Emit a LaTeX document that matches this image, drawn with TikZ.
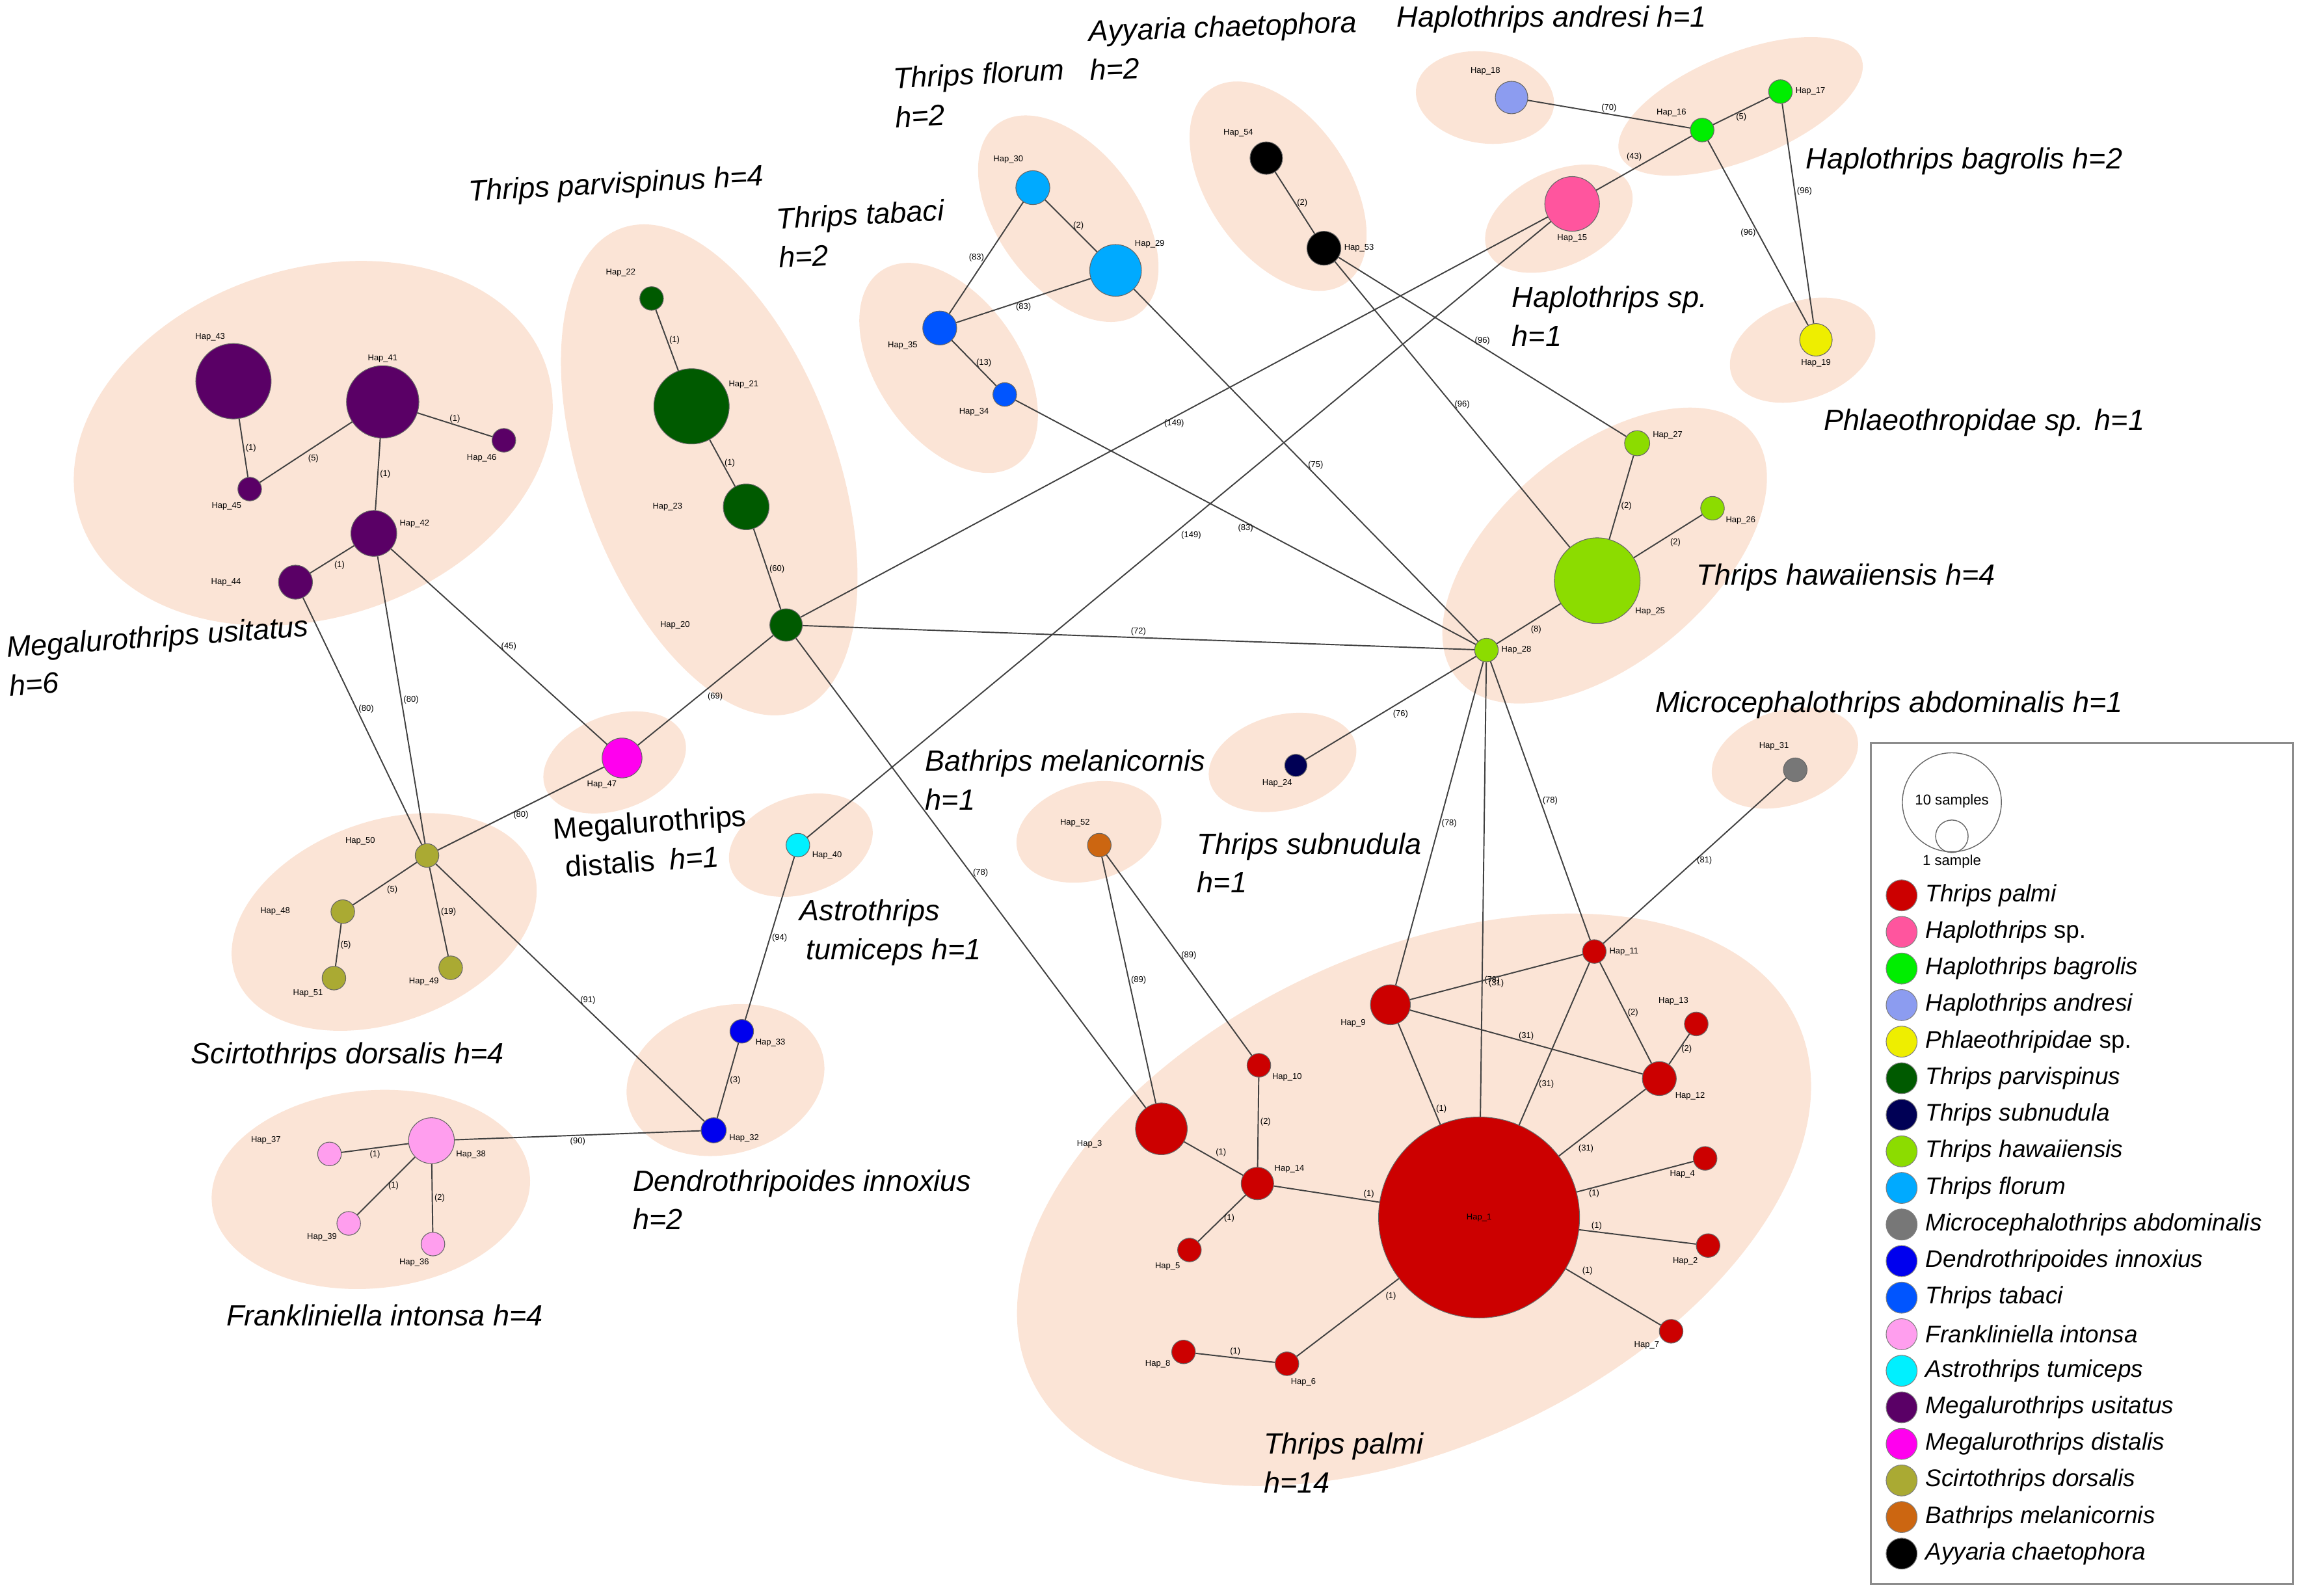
\documentclass[tikz,border=0pt]{standalone}
\usepackage{fontspec}
\setmainfont{Liberation Sans}
\usetikzlibrary{positioning}
\definecolor{blob}{HTML}{FBE4D6}
\definecolor{cpalmi}{HTML}{CC0000}
\definecolor{chapsp}{HTML}{FF559E}
\definecolor{cbagro}{HTML}{00EE00}
\definecolor{candre}{HTML}{8C9CF0}
\definecolor{cphlae}{HTML}{EEEE00}
\definecolor{cparvi}{HTML}{005A00}
\definecolor{csubnu}{HTML}{000055}
\definecolor{chawai}{HTML}{8CDC00}
\definecolor{cflor}{HTML}{00AAFF}
\definecolor{cmicro}{HTML}{777777}
\definecolor{cdendr}{HTML}{0000EE}
\definecolor{ctabac}{HTML}{0055FF}
\definecolor{cfrank}{HTML}{FF9EEE}
\definecolor{castro}{HTML}{00F0FF}
\definecolor{cusita}{HTML}{5A0066}
\definecolor{cdista}{HTML}{FF00EE}
\definecolor{cscirt}{HTML}{AAAA33}
\definecolor{cbathr}{HTML}{CC6611}
\definecolor{cayyar}{HTML}{000000}
\tikzset{hap/.style={circle, draw=black!60, line width=0.3pt, inner sep=0pt, minimum size=#1*0.2272mm},
  hl/.style={font=\fontsize{3.7}{4}\selectfont, inner sep=0.5pt},
  mut/.style={font=\fontsize{3.7}{4}\selectfont, inner sep=0.7pt},
  link/.style={draw=black!75, line width=0.55pt},
  group/.style={fill=blob},
  sp/.style={font=\fontsize{12.8}{17}\selectfont\itshape, inner sep=0pt, anchor=west, align=left},
  key/.style={circle, draw=black!50, line width=0.3pt, inner sep=0pt, minimum size=21*0.2272mm},
  legtxt/.style={font=\fontsize{10.5}{12}\selectfont\itshape, inner sep=0pt},
  samp/.style={font=\fontsize{6.3}{7}\selectfont, inner sep=0.5pt},
  keybox/.style={draw=black!45, line width=0.8pt}}

\begin{document}
\begin{tikzpicture}[x=0.2272mm, y=-0.2272mm, label distance=0.6pt]
     \useasboundingbox (0,0) rectangle (1560,1079.76);
     % species groups
     \fill[group, rotate around={18:(212,300)}] (212,300) ellipse (166 and 118);
     \fill[group, rotate around={-70:(480,318)}] (480,318) ellipse (174 and 86);
     \fill[group, rotate around={-53:(723,148)}] (723,148) ellipse (80 and 47);
     \fill[group, rotate around={-55:(642,249)}] (642,249) ellipse (80 and 48);
     \fill[group, rotate around={-55:(865,126)}] (865,126) ellipse (80 and 47);
     \fill[group, rotate around={-8:(1005,66)}] (1005,66) ellipse (47 and 31);
     \fill[group, rotate around={22:(1178,72)}] (1178,72) ellipse (88 and 36);
     \fill[group, rotate around={25:(1055,148)}] (1055,148) ellipse (53 and 32);
     \fill[group, rotate around={20:(1220,237)}] (1220,237) ellipse (51 and 33);
     \fill[group, rotate around={40:(1086,376)}] (1086,376) ellipse (130 and 72);
     \fill[group, rotate around={15:(868,516)}] (868,516) ellipse (51 and 32);
     \fill[group, rotate around={18:(1208,513)}] (1208,513) ellipse (51 and 32);
     \fill[group, rotate around={15:(737,563)}] (737,563) ellipse (50 and 33);
     \fill[group, rotate around={18:(542,572)}] (542,572) ellipse (50 and 33);
     \fill[group, rotate around={20:(416,516)}] (416,516) ellipse (50 and 32);
     \fill[group, rotate around={20:(260,624)}] (260,624) ellipse (107 and 68);
     \fill[group, rotate around={15:(491,731)}] (491,731) ellipse (68 and 50);
     \fill[group, rotate around={5:(251,805)}] (251,805) ellipse (108 and 67);
     \fill[group, rotate around={25:(957,812)}] (957,812) ellipse (286 and 167);

     % Megalurothrips usitatus
     \node[hap=51, fill=cusita, label={[hl]100:Hap\_43}] (h43) at (158,258) {};
     \node[hap=49, fill=cusita, label={[hl]90:Hap\_41}] (h41) at (259,272) {};
     \node[hap=16, fill=cusita, label={[hl]-115:Hap\_46}] (h46) at (341,298) {};
     \node[hap=16, fill=cusita, label={[hl]-120:Hap\_45}] (h45) at (169,331) {};
     \node[hap=31, fill=cusita, label={[hl]10:Hap\_42}] (h42) at (253,361) {};
     \node[hap=23, fill=cusita, label={[hl,label distance=5.5mm]180:Hap\_44}] (h44) at (200,394) {};
     % Thrips parvispinus
     \node[hap=16, fill=cparvi, label={[hl,label distance=2mm]125:Hap\_22}] (h22) at (441,202) {};
     \node[hap=51, fill=cparvi, label={[hl]25:Hap\_21}] (h21) at (468,275) {};
     \node[hap=31, fill=cparvi, label={[hl,label distance=6mm]180:Hap\_23}] (h23) at (505,343) {};
     \node[hap=22, fill=cparvi, label={[hl,label distance=12mm]180:Hap\_20}] (h20) at (532,423) {};
     % Thrips florum, Thrips tabaci
     \node[hap=23, fill=cflor, label={[hl,label distance=1mm]110:Hap\_30}] (h30) at (699,127) {};
     \node[hap=35, fill=cflor, label={[hl]50:Hap\_29}] (h29) at (755,183) {};
     \node[hap=23, fill=ctabac, label={[hl,label distance=1mm]-150:Hap\_35}] (h35) at (636,222) {};
     \node[hap=16, fill=ctabac, label={[hl,label distance=1mm]-140:Hap\_34}] (h34) at (680,267) {};
     % Ayyaria chaetophora
     \node[hap=22, fill=cayyar, label={[hl,label distance=1mm]120:Hap\_54}] (h54) at (857,107) {};
     \node[hap=23, fill=cayyar, label={[hl]0:Hap\_53}] (h53) at (896,168) {};
     % Haplothrips, Phlaeothripidae
     \node[hap=22, fill=candre, label={[hl,label distance=1mm]115:Hap\_18}] (h18) at (1023,66) {};
     \node[hap=16, fill=cbagro, label={[hl,label distance=1mm]140:Hap\_16}] (h16) at (1152,88) {};
     \node[hap=16, fill=cbagro, label={[hl]0:Hap\_17}] (h17) at (1205,62) {};
     \node[hap=37, fill=chapsp, label={[hl]-90:Hap\_15}] (h15) at (1064,138) {};
     \node[hap=22, fill=cphlae, label={[hl]-90:Hap\_19}] (h19) at (1229,230) {};
     % Thrips hawaiiensis
     \node[hap=17, fill=chawai, label={[hl]10:Hap\_27}] (h27) at (1108,300) {};
     \node[hap=16, fill=chawai, label={[hl]-30:Hap\_26}] (h26) at (1159,344) {};
     \node[hap=58, fill=chawai, label={[hl]-35:Hap\_25}] (h25) at (1081,393) {};
     \node[hap=16, fill=chawai, label={[hl]0:Hap\_28}] (h28) at (1006,440) {};
     % single haplotypes
     \node[hap=15, fill=csubnu, label={[hl]-100:Hap\_24}] (h24) at (877,518) {};
     \node[hap=16, fill=cmicro, label={[hl,label distance=1mm]105:Hap\_31}] (h31) at (1215,521) {};
     \node[hap=16, fill=cbathr, label={[hl,label distance=1mm]115:Hap\_52}] (h52) at (744,572) {};
     \node[hap=16, fill=castro, label={[hl]-20:Hap\_40}] (h40) at (540,572) {};
     \node[hap=27, fill=cdista, label={[hl]-100:Hap\_47}] (h47) at (421,513) {};
     % Scirtothrips dorsalis
     \node[hap=16, fill=cscirt, label={[hl,label distance=6mm]170:Hap\_50}] (h50) at (289,579) {};
     \node[hap=16, fill=cscirt, label={[hl,label distance=6mm]180:Hap\_48}] (h48) at (232,617) {};
     \node[hap=16, fill=cscirt, label={[hl]-135:Hap\_51}] (h51) at (226,662) {};
     \node[hap=16, fill=cscirt, label={[hl]-140:Hap\_49}] (h49) at (305,655) {};
     % Dendrothripoides innoxius
     \node[hap=16, fill=cdendr, label={[hl]-25:Hap\_33}] (h33) at (502,698) {};
     \node[hap=17, fill=cdendr, label={[hl]-10:Hap\_32}] (h32) at (483,765) {};
     % Frankliniella intonsa
     \node[hap=31, fill=cfrank, label={[hl]-20:Hap\_38}] (h38) at (292,772) {};
     \node[hap=16, fill=cfrank, label={[hl,label distance=5.5mm]170:Hap\_37}] (h37) at (223,781) {};
     \node[hap=16, fill=cfrank, label={[hl]-140:Hap\_39}] (h39) at (236,828) {};
     \node[hap=16, fill=cfrank, label={[hl]-100:Hap\_36}] (h36) at (293,842) {};
     % Thrips palmi
     \node[hap=136, fill=cpalmi, font=\fontsize{3.7}{4}\selectfont] (h1) at (1001,824) {Hap\_1};
     \node[hap=35, fill=cpalmi, label={[hl,label distance=5mm]190:Hap\_3}] (h3) at (786,764) {};
     \node[hap=16, fill=cpalmi, label={[hl]-30:Hap\_10}] (h10) at (852,721) {};
     \node[hap=22, fill=cpalmi, label={[hl]30:Hap\_14}] (h14) at (851,801) {};
     \node[hap=16, fill=cpalmi, label={[hl]-125:Hap\_5}] (h5) at (805,846) {};
     \node[hap=16, fill=cpalmi, label={[hl]-150:Hap\_8}] (h8) at (801,915) {};
     \node[hap=16, fill=cpalmi, label={[hl]-80:Hap\_6}] (h6) at (871,923) {};
     \node[hap=27, fill=cpalmi, label={[hl,label distance=1mm]-150:Hap\_9}] (h9) at (941,680) {};
     \node[hap=16, fill=cpalmi, label={[hl]0:Hap\_11}] (h11) at (1079,644) {};
     \node[hap=23, fill=cpalmi, label={[hl]-40:Hap\_12}] (h12) at (1123,730) {};
     \node[hap=16, fill=cpalmi, label={[hl,label distance=1mm]110:Hap\_13}] (h13) at (1148,693) {};
     \node[hap=16, fill=cpalmi, label={[hl]-130:Hap\_4}] (h4) at (1154,784) {};
     \node[hap=16, fill=cpalmi, label={[hl]-130:Hap\_2}] (h2) at (1156,843) {};
     \node[hap=16, fill=cpalmi, label={[hl]-140:Hap\_7}] (h7) at (1131,901) {};

     % mutational steps
     \draw[link] (h43) -- node[mut,right]{(1)} (h45);
     \draw[link] (h45) -- node[mut,below right]{(5)} (h41);
     \draw[link] (h41) -- node[mut,above]{(1)} (h46);
     \draw[link] (h41) -- node[mut,right]{(1)} (h42);
     \draw[link] (h42) -- node[mut,below right]{(1)} (h44);
     \draw[link] (h44) -- node[mut,right,pos=.45]{(80)} (h50);
     \draw[link] (h42) -- node[mut,right]{(80)} (h50);
     \draw[link] (h42) -- node[mut,right]{(45)} (h47);
     \draw[link] (h22) -- node[mut,right]{(1)} (h21);
     \draw[link] (h21) -- node[mut,right]{(1)} (h23);
     \draw[link] (h23) -- node[mut,right]{(60)} (h20);
     \draw[link] (h20) -- node[mut,below right]{(69)} (h47);
     \draw[link] (h20) -- node[mut,above]{(72)} (h28);
     \draw[link] (h20) -- node[mut,below]{(149)} (h15);
     \draw[link] (h20) -- node[mut,right]{(78)} (h3);
     \draw[link] (h30) -- node[mut,right]{(2)} (h29);
     \draw[link] (h35) -- node[mut,left]{(83)} (h30);
     \draw[link] (h35) -- node[mut,below]{(83)} (h29);
     \draw[link] (h35) -- node[mut,right]{(13)} (h34);
     \draw[link] (h34) -- node[mut,below]{(83)} (h28);
     \draw[link] (h29) -- node[mut,right]{(75)} (h28);
     \draw[link] (h54) -- node[mut,right]{(2)} (h53);
     \draw[link] (h53) -- node[mut,above]{(96)} (h27);
     \draw[link] (h53) -- node[mut,right]{(96)} (h25);
     \draw[link] (h18) -- node[mut,above]{(70)} (h16);
     \draw[link] (h16) -- node[mut,below]{(5)} (h17);
     \draw[link] (h16) -- node[mut,above left]{(43)} (h15);
     \draw[link] (h16) -- node[mut,left]{(96)} (h19);
     \draw[link] (h17) -- node[mut,right,pos=.4]{(96)} (h19);
     \draw[link] (h27) -- node[mut,right,pos=.6]{(2)} (h25);
     \draw[link] (h26) -- node[mut,below right]{(2)} (h25);
     \draw[link] (h25) -- node[mut,below right]{(8)} (h28);
     \draw[link] (h28) -- node[mut,below right]{(76)} (h24);
     \draw[link] (h28) -- node[mut,right]{(78)} (h9);
     \draw[link] (h28) -- node[mut,right,pos=.7]{(78)} (h1);
     \draw[link] (h28) -- node[mut,right]{(78)} (h11);
     \draw[link] (h31) -- node[mut,right]{(81)} (h11);
     \draw[link] (h52) -- node[mut,right]{(89)} (h3);
     \draw[link] (h52) -- node[mut,right]{(89)} (h10);
     \draw[link] (h40) -- node[mut,right]{(94)} (h33);
     \draw[link] (h40) -- node[mut,below right]{(149)} (h15);
     \draw[link] (h33) -- node[mut,right]{(3)} (h32);
     \draw[link] (h50) -- node[mut,right,pos=.53]{(91)} (h32);
     \draw[link] (h32) -- node[mut,below]{(90)} (h38);
     \draw[link] (h47) -- node[mut,below]{(80)} (h50);
     \draw[link] (h50) -- node[mut,below right]{(5)} (h48);
     \draw[link] (h48) -- node[mut,right]{(5)} (h51);
     \draw[link] (h50) -- node[mut,right]{(19)} (h49);
     \draw[link] (h38) -- node[mut,below]{(1)} (h37);
     \draw[link] (h38) -- node[mut,right]{(1)} (h39);
     \draw[link] (h38) -- node[mut,right]{(2)} (h36);
     \draw[link] (h3) -- node[mut,above right]{(1)} (h14);
     \draw[link] (h10) -- node[mut,right]{(2)} (h14);
     \draw[link] (h14) -- node[mut,above,pos=.9]{(1)} (h1);
     \draw[link] (h14) -- node[mut,right]{(1)} (h5);
     \draw[link] (h8) -- node[mut,above]{(1)} (h6);
     \draw[link] (h6) -- node[mut,below right,pos=.85]{(1)} (h1);
     \draw[link] (h9) -- node[mut,right,pos=.85]{(1)} (h1);
     \draw[link] (h9) -- node[mut,below]{(31)} (h11);
     \draw[link] (h9) -- node[mut,above]{(31)} (h12);
     \draw[link] (h11) -- node[mut,right,pos=.75]{(31)} (h1);
     \draw[link] (h11) -- node[mut,right]{(2)} (h12);
     \draw[link] (h12) -- node[mut,right]{(2)} (h13);
     \draw[link] (h12) -- node[mut,below right,pos=.8]{(31)} (h1);
     \draw[link] (h1) -- node[mut,below,pos=.15]{(1)} (h4);
     \draw[link] (h1) -- node[mut,above,pos=.15]{(1)} (h2);
     \draw[link] (h1) -- node[mut,above right,pos=.15]{(1)} (h7);

     % species names
     \node[sp, rotate=3] (lparvi) at (317,131) {Thrips parvispinus h=4};
     \node[sp, rotate=3] (lflor) at (605,66) {Thrips florum\\h=2};
     \node[sp, rotate=2] (layyar) at (737,34) {Ayyaria chaetophora\\h=2};
     \node[sp] (landre) at (945,13) {Haplothrips andresi h=1};
     \node[sp] (lbagro) at (1222,109) {Haplothrips bagrolis h=2};
     \node[sp, rotate=3] (ltabac) at (526,161) {Thrips tabaci\\h=2};
     \node[sp] (lhapsp) at (1023,214) {Haplothrips sp.\\h=1};
     \node[sp] (lphlae) at (1234,286) {Phlaeothropidae sp. h=1};
     \node[sp] (lhawai) at (1148,391) {Thrips hawaiiensis h=4};
     \node[sp] (lmicro) at (1120,477) {Microcephalothrips abdominalis h=1};
     \node[sp, rotate=4] (lusita) at (5,451) {Megalurothrips usitatus\\h=6};
     \node[sp] (lbathr) at (626,528) {Bathrips melanicornis\\h=1};
     \node[sp] (lsubnu) at (810,584) {Thrips subnudula\\h=1};
     \node[sp, rotate=4] (ldista) at (375,574) {{\upshape Megalurothrips}\\\hspace{1.5mm}{\upshape distalis}\enspace h=1};
     \node[sp] (lastro) at (541,631) {Astrothrips\\\hspace{1mm}tumiceps h=1};
     \node[sp] (lscirt) at (129,715) {Scirtothrips dorsalis h=4};
     \node[sp] (ldendr) at (428,812) {Dendrothripoides innoxius\\h=2};
     \node[sp] (lfrank) at (153,890) {Frankliniella intonsa h=4};
     \node[sp] (lpalmi) at (855,990) {Thrips palmi\\h=14};

     % legend
     \draw[keybox] (1266,503) rectangle (1552,1072);
     \node[circle, draw=black!60, line width=0.4pt, inner sep=0pt, minimum size=67*0.2272mm] (ten) at (1321,543) {};
     \node[circle, draw=black!60, line width=0.4pt, inner sep=0pt, minimum size=22*0.2272mm] (one) at (1321,566) {};
     \node[samp] (tentxt) at (1321,542) {10 samples};
     \node[samp, below=0.2mm of ten] (onetxt) {1 sample};
     \foreach \c/\t [count=\i from 0] in {cpalmi/Thrips palmi, chapsp/Haplothrips \textup{sp.},
       cbagro/Haplothrips bagrolis, candre/Haplothrips andresi, cphlae/Phlaeothripidae \textup{sp.},
       cparvi/Thrips parvispinus, csubnu/Thrips subnudula, chawai/Thrips hawaiiensis,
       cflor/Thrips florum, cmicro/Microcephalothrips abdominalis, cdendr/Dendrothripoides innoxius,
       ctabac/Thrips tabaci, cfrank/Frankliniella intonsa, castro/Astrothrips tumiceps,
       cusita/Megalurothrips usitatus, cdista/Megalurothrips distalis, cscirt/Scirtothrips dorsalis,
       cbathr/Bathrips melanicornis, cayyar/Ayyaria chaetophora}
     {
       \node[key, fill=\c] (key\i) at (1287,{606+24.75*\i}) {};
       \node[legtxt, right=1.2mm of key\i] (name\i) {\t};
     }
    \end{tikzpicture}
\end{document}
